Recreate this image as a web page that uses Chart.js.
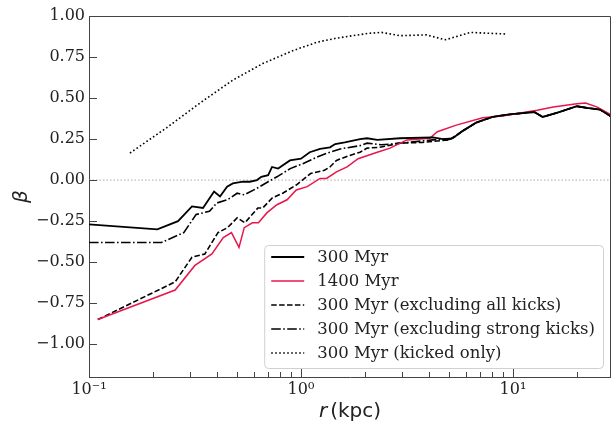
<!DOCTYPE html>
<html>
<head>
<meta charset="utf-8">
<script src="https://cdn.jsdelivr.net/npm/chart.js@4.4.1/dist/chart.umd.min.js"></script>
<style>
  html, body { margin: 0; padding: 0; background: #fff; }
  canvas { display: block; }
</style>
</head>
<body>
<canvas id="c" width="611" height="425"></canvas>
<script>
/* Velocity anisotropy beta(r): 300 vs 1400 Myr, plus kick-filtered 300 Myr curves. */

// 300 Myr
const r300 = [0.10, 0.21, 0.263, 0.306, 0.345, 0.389, 0.415, 0.448, 0.477, 0.532, 0.574, 0.62, 0.65, 0.70, 0.73, 0.78, 0.887, 1.0, 1.10, 1.23, 1.37, 1.45, 1.61, 1.90, 2.05, 2.29, 2.93, 4.19, 4.9, 5.2, 5.8, 6.7, 8.0, 9.6, 12.6, 13.8, 16.1, 20.0, 22.3, 25.7, 28.8];
const beta300 = [-0.27, -0.30, -0.25, -0.16, -0.17, -0.07, -0.10, -0.04, -0.02, -0.01, -0.01, 0.00, 0.02, 0.03, 0.08, 0.07, 0.12, 0.13, 0.17, 0.19, 0.20, 0.22, 0.23, 0.25, 0.255, 0.245, 0.255, 0.26, 0.245, 0.255, 0.30, 0.35, 0.385, 0.40, 0.415, 0.385, 0.41, 0.45, 0.44, 0.43, 0.39];

// 1400 Myr
const r1400 = [0.11, 0.255, 0.316, 0.38, 0.43, 0.47, 0.51, 0.54, 0.59, 0.63, 0.69, 0.77, 0.86, 0.95, 1.07, 1.23, 1.32, 1.47, 1.65, 1.86, 2.29, 2.63, 3.16, 4.05, 4.4, 5.4, 7.2, 8.9, 13.0, 15.5, 20.0, 22.0, 25.0, 28.8];
const beta1400 = [-0.85, -0.67, -0.52, -0.45, -0.35, -0.32, -0.41, -0.29, -0.26, -0.26, -0.20, -0.15, -0.12, -0.06, -0.04, 0.01, 0.01, 0.05, 0.08, 0.13, 0.17, 0.195, 0.245, 0.255, 0.295, 0.335, 0.38, 0.39, 0.425, 0.445, 0.465, 0.47, 0.445, 0.40];

// 300 Myr, excluding all kicks
const rNoKick = [0.11, 0.255, 0.306, 0.352, 0.406, 0.45, 0.50, 0.544, 0.626, 0.66, 0.73, 0.82, 0.95, 1.11, 1.29, 1.37, 1.47, 1.7, 1.9, 2.05, 2.35, 2.93, 3.75, 5.0, 5.8, 6.7, 8.0, 9.6, 12.6, 13.8, 16.1, 20.0, 22.3, 25.7, 28.8];
const betaNoKick = [-0.85, -0.62, -0.47, -0.45, -0.32, -0.29, -0.23, -0.26, -0.17, -0.17, -0.11, -0.08, -0.03, 0.04, 0.06, 0.08, 0.12, 0.15, 0.17, 0.195, 0.20, 0.225, 0.23, 0.245, 0.30, 0.35, 0.385, 0.40, 0.415, 0.385, 0.41, 0.45, 0.44, 0.43, 0.39];

// 300 Myr, excluding strong kicks
const rNoStrong = [0.10, 0.22, 0.28, 0.32, 0.37, 0.40, 0.45, 0.50, 0.54, 0.62, 0.70, 0.77, 0.89, 1.02, 1.19, 1.33, 1.53, 1.9, 2.05, 2.4, 2.93, 4.2, 5.2, 5.8, 6.7, 8.0, 9.6, 12.6, 13.8, 16.1, 20.0, 22.3, 25.7, 28.8];
const betaNoStrong = [-0.38, -0.38, -0.32, -0.21, -0.19, -0.14, -0.12, -0.08, -0.09, -0.05, -0.01, 0.02, 0.07, 0.10, 0.14, 0.165, 0.19, 0.21, 0.225, 0.215, 0.225, 0.245, 0.255, 0.30, 0.35, 0.385, 0.40, 0.415, 0.385, 0.41, 0.45, 0.44, 0.43, 0.39];

// 300 Myr, kicked only
const rKicked = [0.156, 0.233, 0.334, 0.478, 0.66, 0.92, 1.19, 1.47, 2.1, 2.4, 2.93, 3.9, 4.8, 6.3, 9.3];
const betaKicked = [0.165, 0.32, 0.47, 0.61, 0.71, 0.79, 0.84, 0.865, 0.895, 0.90, 0.88, 0.885, 0.855, 0.90, 0.89];

const seriesLabels = ['300 Myr', '1400 Myr', '300 Myr (excluding all kicks)', '300 Myr (excluding strong kicks)', '300 Myr (kicked only)'];

const xRange = [0.1, 29];
const xMajor = [0.1, 1, 10];
const xMajorLabels = ['10\u207B\u00B9', '10\u2070', '10\u00B9'];
const xMinor = [0.2, 0.3, 0.4, 0.5, 0.6, 0.7, 0.8, 0.9, 2, 3, 4, 5, 6, 7, 8, 9, 20];
const yTicks = [-1.0, -0.75, -0.5, -0.25, 0, 0.25, 0.5, 0.75, 1.0];

const AXIS = '#444';
const RED = '#e8174a';
const SERIF = '"DejaVu Serif", "Liberation Serif", serif';

const pts = (xs, ys) => xs.map((x, i) => ({ x, y: ys[i] }));

function line(label, xs, ys, color, width, dash) {
  return {
    label, data: pts(xs, ys),
    borderColor: color, backgroundColor: color,
    borderWidth: width, borderDash: dash,
    pointRadius: 0, tension: 0, fill: false,
  };
}

const datasets = [
  line(seriesLabels[0], r300, beta300, '#000', 1.8, []),
  line(seriesLabels[1], r1400, beta1400, RED, 1.5, []),
  line(seriesLabels[2], rNoKick, betaNoKick, '#000', 1.6, [5.5, 2.4]),
  line(seriesLabels[3], rNoStrong, betaNoStrong, '#000', 1.6, [9.6, 2.4, 1.6, 2.4]),
  line(seriesLabels[4], rKicked, betaKicked, '#000', 1.6, [1.6, 2.4]),
  // beta = 0 reference line, not in legend
  { label: '', data: pts(xRange, [0, 0]), borderColor: '#aaa', borderWidth: 1,
    borderDash: [1.5, 2], pointRadius: 0, fill: false },
];

function fmtY(v) {
  const s = Math.abs(v).toFixed(2);
  return v < 0 ? '\u2212' + s : s;
}

// frame on top/right, inward tick marks, x title with italic r, legend box
const frame = {
  id: 'frame',
  afterDraw(chart) {
    const { ctx, chartArea: a, scales } = chart;
    ctx.save();
    ctx.strokeStyle = AXIS;
    ctx.lineWidth = 1;
    ctx.setLineDash([]);
    ctx.beginPath();
    ctx.moveTo(a.left, a.top + 0.5);
    ctx.lineTo(a.right - 0.5, a.top + 0.5);
    ctx.lineTo(a.right - 0.5, a.bottom);
    ctx.stroke();

    ctx.beginPath();
    for (const v of yTicks) {
      const py = Math.round(scales.y.getPixelForValue(v)) + 0.5;
      ctx.moveTo(a.left, py); ctx.lineTo(a.left + 8, py);
    }
    for (const v of xMajor) {
      const px = Math.round(scales.x.getPixelForValue(v)) + 0.5;
      ctx.moveTo(px, a.bottom); ctx.lineTo(px, a.bottom - 8);
    }
    for (const v of xMinor) {
      const px = Math.round(scales.x.getPixelForValue(v)) + 0.5;
      ctx.moveTo(px, a.bottom); ctx.lineTo(px, a.bottom - 5);
    }
    ctx.stroke();

    // x axis title: italic r + (kpc)
    const cx = (a.left + a.right) / 2;
    const ty = 412;
    ctx.fillStyle = '#222';
    ctx.textBaseline = 'middle';
    ctx.textAlign = 'left';
    ctx.font = 'italic 20px "DejaVu Sans"';
    const wR = ctx.measureText('r').width;
    ctx.font = '20px "DejaVu Sans"';
    const wK = ctx.measureText('(kpc)').width;
    const gap = 3;
    const x = cx - (wR + gap + wK) / 2;
    ctx.font = 'italic 20px "DejaVu Sans"';
    ctx.fillText('r', x, ty);
    ctx.font = '20px "DejaVu Sans"';
    ctx.fillText('(kpc)', x + wR + gap, ty);

    // legend, lower right inside the axes
    const items = chart.data.datasets.filter((d) => d.label);
    ctx.font = '16.5px ' + SERIF;
    const textW = Math.max(...items.map((d) => ctx.measureText(d.label).width));
    const rowH = 24;
    const w = 7 + 33 + 13 + textW + 8;
    const h = items.length * rowH + 3;
    const x0 = a.right - 8 - w;
    const y0 = a.bottom - 9 - h;

    ctx.beginPath();
    ctx.roundRect(x0 + 0.5, y0 + 0.5, w, h, 4);
    ctx.fillStyle = 'rgba(255,255,255,0.85)';
    ctx.fill();
    ctx.strokeStyle = '#d0d0d0';
    ctx.lineWidth = 1;
    ctx.stroke();

    items.forEach((d, i) => {
      const yy = y0 + 12 + i * rowH;
      ctx.beginPath();
      ctx.setLineDash(d.borderDash || []);
      ctx.strokeStyle = d.borderColor;
      ctx.lineWidth = d.borderWidth;
      ctx.moveTo(x0 + 7, yy);
      ctx.lineTo(x0 + 40, yy);
      ctx.stroke();
      ctx.setLineDash([]);
      ctx.fillStyle = '#222';
      ctx.fillText(d.label, x0 + 53, yy + 1);
    });
    ctx.restore();
  },
};

new Chart(document.getElementById('c'), {
  type: 'line',
  data: { datasets },
  options: {
    responsive: false,
    animation: false,
    devicePixelRatio: 1,
    layout: { padding: { top: 16, right: 0, left: 0, bottom: 0 } },
    plugins: { legend: { display: false }, tooltip: { enabled: false } },
    scales: {
      x: {
        type: 'logarithmic',
        min: xRange[0], max: xRange[1],
        grid: { display: false, drawTicks: false },
        border: { display: true, color: AXIS, width: 1 },
        afterBuildTicks: (s) => { s.ticks = xMajor.map((v) => ({ value: v, major: true })); },
        afterFit: (s) => { s.height = 48; },
        ticks: {
          autoSkip: false, maxRotation: 0, padding: 3, color: '#222',
          font: { family: SERIF, size: 16 },
          callback: (v) => { const i = xMajor.indexOf(v); return i >= 0 ? xMajorLabels[i] : ''; },
        },
      },
      y: {
        type: 'linear',
        min: -1.2, max: 1.0,
        grid: { display: false, drawTicks: false },
        border: { display: true, color: AXIS, width: 1 },
        afterBuildTicks: (s) => { s.ticks = yTicks.map((v) => ({ value: v })); },
        afterFit: (s) => { s.width = 89; },
        ticks: {
          padding: 4, color: '#222',
          font: { family: SERIF, size: 16 },
          callback: (v) => fmtY(v),
        },
        title: {
          display: true, text: '\u03B2', color: '#222',
          font: { family: 'DejaVu Sans', size: 20, style: 'italic' },
          padding: { top: 10, bottom: 0 },
        },
      },
    },
  },
  plugins: [frame],
});
</script>
</body>
</html>
